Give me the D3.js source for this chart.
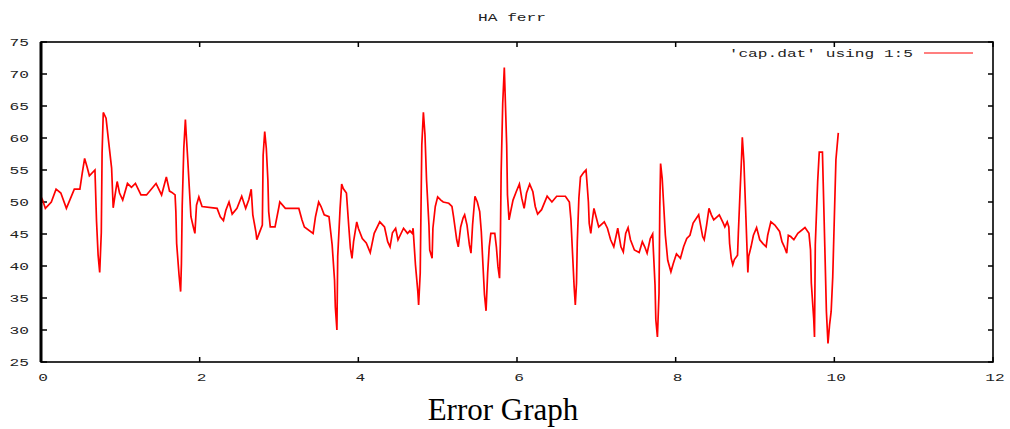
<!DOCTYPE html>
<html>
<head>
<meta charset="utf-8">
<script src="https://cdn.jsdelivr.net/npm/d3@7"></script>
<style>
  body { margin: 0; background: #fff; }
  svg { display: block; }
</style>
</head>
<body>
<div id="chart"></div>
<script>
// x column and 5th column of cap.dat
const timeValues = [
  0, 0.02, 0.055, 0.13, 0.19, 0.25, 0.32, 0.42, 0.49, 0.52, 0.55, 0.58, 0.61, 0.68, 0.70, 0.72, 0.74, 0.76, 0.77, 0.785,
  0.82, 0.85, 0.89, 0.91, 0.93, 0.96, 0.99, 1.03, 1.09, 1.14, 1.19, 1.26, 1.33, 1.45, 1.52, 1.58, 1.62, 1.65, 1.69, 1.70,
  1.71, 1.74, 1.76, 1.77, 1.78, 1.80, 1.82, 1.83, 1.85, 1.87, 1.89, 1.92, 1.94, 1.96, 1.99, 2.03, 2.22, 2.26, 2.30, 2.33,
  2.37, 2.41, 2.47, 2.53, 2.58, 2.62, 2.65, 2.67, 2.71, 2.72, 2.75, 2.79, 2.80, 2.82, 2.84, 2.86, 2.87, 2.89, 2.95, 3.00,
  3.01, 3.08, 3.25, 3.29, 3.32, 3.43, 3.46, 3.50, 3.53, 3.57, 3.63, 3.67, 3.70, 3.71, 3.73, 3.74, 3.77, 3.79, 3.81, 3.85,
  3.88, 3.90, 3.92, 3.94, 3.98, 4.00, 4.05, 4.10, 4.15, 4.20, 4.27, 4.33, 4.37, 4.40, 4.43, 4.47, 4.50, 4.57, 4.62, 4.65,
  4.68, 4.69, 4.72, 4.75, 4.76, 4.78, 4.79, 4.80, 4.82, 4.84, 4.86, 4.89, 4.90, 4.93, 4.94, 4.97, 5.00, 5.04, 5.07, 5.14,
  5.18, 5.20, 5.22, 5.24, 5.26, 5.29, 5.32, 5.34, 5.37, 5.40, 5.42, 5.44, 5.47, 5.50, 5.53, 5.55, 5.57, 5.59, 5.61, 5.63,
  5.65, 5.67, 5.72, 5.74, 5.76, 5.78, 5.79, 5.80, 5.82, 5.84, 5.85, 5.87, 5.88, 5.90, 5.92, 5.95, 5.99, 6.03, 6.06, 6.09,
  6.12, 6.16, 6.20, 6.23, 6.26, 6.31, 6.38, 6.44, 6.50, 6.61, 6.66, 6.68, 6.70, 6.72, 6.735, 6.75, 6.76, 6.78, 6.80, 6.84,
  6.87, 6.88, 6.90, 6.91, 6.93, 6.95, 6.97, 6.99, 7.03, 7.10, 7.14, 7.18, 7.22, 7.27, 7.31, 7.34, 7.37, 7.40, 7.43, 7.48,
  7.54, 7.58, 7.61, 7.64, 7.68, 7.71, 7.72, 7.74, 7.75, 7.77, 7.79, 7.80, 7.81, 7.83, 7.85, 7.87, 7.90, 7.94, 7.97, 8.01,
  8.06, 8.10, 8.14, 8.18, 8.22, 8.29, 8.34, 8.36, 8.39, 8.42, 8.45, 8.48, 8.55, 8.60, 8.62, 8.65, 8.67, 8.68, 8.70, 8.72,
  8.74, 8.78, 8.79, 8.81, 8.83, 8.84, 8.86, 8.88, 8.90, 8.91, 8.92, 8.95, 8.98, 9.02, 9.06, 9.10, 9.14, 9.16, 9.20, 9.25,
  9.31, 9.34, 9.37, 9.40, 9.42, 9.45, 9.49, 9.54, 9.63, 9.68, 9.70, 9.71, 9.73, 9.74, 9.75, 9.76, 9.79, 9.81, 9.85, 9.86,
  9.88, 9.90, 9.92, 9.94, 9.96, 9.98, 10.00, 10.02, 10.05
]
const ferrValues = [
  50.8, 50.3, 49.0, 50.0, 52.0, 51.4, 49.0, 52.0, 52.0, 54.5, 56.8, 55.5, 54.1, 55.0, 47.0, 41.7, 39.0, 45.2, 57.6, 64.0,
  63.1, 59.7, 55.3, 49.1, 50.8, 53.2, 51.4, 50.3, 52.9, 52.3, 52.9, 51.1, 51.1, 52.9, 51.1, 53.9, 51.7, 51.5, 51.1, 48.5,
  43.5, 38.6, 36.0, 40.4, 49.4, 58.4, 62.9, 60.7, 56.6, 52.1, 47.7, 46.1, 45.1, 49.5, 50.8, 49.3, 49.0, 47.7, 47.1, 48.7,
  50.0, 48.1, 49.0, 50.9, 49.0, 50.4, 52.0, 48.0, 45.2, 44.1, 45.1, 46.4, 57.3, 61.0, 58.4, 53.4, 48.5, 46.1, 46.1, 49.3,
  50.0, 49.0, 49.0, 47.2, 46.1, 45.1, 47.7, 50.0, 49.3, 48.0, 47.7, 43.3, 37.8, 33.6, 30.0, 41.5, 49.0, 52.8, 52.1, 51.4,
  46.1, 42.8, 41.2, 43.8, 46.9, 45.9, 44.3, 43.6, 42.1, 45.1, 46.9, 46.1, 43.8, 43.0, 45.2, 45.9, 44.1, 45.9, 45.1, 45.5,
  45.1, 45.9, 40.2, 36.0, 33.9, 38.9, 49.0, 58.9, 64.0, 60.5, 53.4, 46.4, 42.5, 41.2, 45.9, 49.3, 50.8, 50.3, 50.0, 49.8,
  49.3, 47.7, 45.9, 44.1, 43.0, 46.1, 47.5, 48.0, 46.4, 43.3, 42.0, 46.4, 50.9, 50.0, 48.5, 45.4, 40.4, 35.5, 33.0, 38.9,
  43.0, 45.1, 45.1, 43.0, 39.9, 38.1, 43.5, 54.5, 65.4, 71.0, 67.0, 58.9, 51.1, 47.2, 48.5, 50.3, 51.6, 52.8, 50.6, 49.0,
  51.4, 52.8, 51.6, 49.3, 48.1, 48.8, 50.9, 50.0, 50.9, 50.9, 50.0, 47.2, 42.0, 36.8, 33.9, 37.3, 43.8, 50.6, 53.9, 54.6,
  55.0, 53.4, 50.0, 46.7, 45.1, 47.2, 49.0, 48.0, 46.1, 46.9, 45.9, 44.1, 43.0, 45.9, 43.0, 42.2, 45.1, 46.0, 44.1, 42.5,
  42.1, 43.8, 43.0, 42.0, 44.3, 45.0, 42.2, 37.0, 31.6, 28.9, 35.7, 49.3, 56.0, 53.7, 49.3, 44.8, 40.9, 39.1, 40.4, 41.9,
  41.2, 43.0, 44.3, 44.8, 46.7, 48.0, 44.6, 44.1, 46.4, 49.0, 48.0, 47.2, 48.0, 46.7, 46.1, 46.9, 46.1, 43.5, 41.2, 40.2,
  41.0, 41.7, 45.1, 51.1, 56.8, 60.1, 56.3, 49.5, 42.5, 39.0, 41.5, 43.0, 44.8, 46.0, 44.1, 43.5, 43.0, 44.8, 46.9, 46.4,
  45.4, 43.8, 43.0, 42.0, 44.8, 44.6, 44.1, 45.1, 46.0, 45.1, 42.5, 37.3, 33.6, 31.8, 28.9, 43.3, 53.2, 57.8, 57.8, 52.9,
  43.0, 32.9, 27.9, 30.8, 32.9, 38.3, 47.5, 56.6, 60.8
]
const xTicks = [0, 2, 4, 6, 8, 10, 12]
const yTicks = [25, 30, 35, 40, 45, 50, 55, 60, 65, 70, 75]

const chartTitle = 'HA ferr'
const legendLabel = "'cap.dat' using 1:5"
const caption = 'Error Graph'

const width = 1010
const height = 429
const plot = {left: 41, top: 42, right: 993, bottom: 362}
const charW = 9.7  // the gnuplot font is wide, stretch text to match

const points = timeValues.map((t, i) => [t, ferrValues[i]])

const x = d3.scaleLinear().domain([0, 12]).range([plot.left, plot.right])
const y = d3.scaleLinear().domain([25, 75]).range([plot.bottom, plot.top])

const svg = d3.create('svg')
  .attr('width', width)
  .attr('height', height)
  .attr('viewBox', [0, 0, width, height])

document.getElementById('chart').appendChild(svg.node())

const mono = '"Liberation Mono", "DejaVu Sans Mono", monospace'

// wide text helper
function wideText(sel, str) {
  return sel.text(str)
    .attr('font-family', mono)
    .attr('font-size', 11)
    .attr('fill', '#222')
    .attr('textLength', str.length * charW)
    .attr('lengthAdjust', 'spacingAndGlyphs')
}

// ticks, mirrored on all four sides
const tickLen = 5
const ticks = svg.append('g').attr('stroke', '#000').attr('stroke-width', 1.5)
xTicks.forEach(v => {
  ticks.append('line').attr('x1', x(v)).attr('x2', x(v)).attr('y1', plot.bottom).attr('y2', plot.bottom - tickLen)
  ticks.append('line').attr('x1', x(v)).attr('x2', x(v)).attr('y1', plot.top).attr('y2', plot.top + tickLen)
})
yTicks.forEach(v => {
  ticks.append('line').attr('x1', plot.left).attr('x2', plot.left + tickLen + 1).attr('y1', y(v)).attr('y2', y(v))
  ticks.append('line').attr('x1', plot.right).attr('x2', plot.right - tickLen).attr('y1', y(v)).attr('y2', y(v))
})

// tick labels
svg.append('g').selectAll('text')
  .data(xTicks)
  .join('text')
    .attr('x', d => x(d) + 2)
    .attr('y', plot.bottom + 19)
    .attr('text-anchor', 'middle')
    .each(function(d) { wideText(d3.select(this), String(d)) })

svg.append('g').selectAll('text')
  .data(yTicks)
  .join('text')
    .attr('x', 29)
    .attr('y', d => y(d) + 4)
    .attr('text-anchor', 'end')
    .each(function(d) { wideText(d3.select(this), String(d)) })

// the series
const line = d3.line()
  .x(d => x(d[0]))
  .y(d => y(d[1]))

svg.append('path')
  .datum(points)
  .attr('fill', 'none')
  .attr('stroke', '#ff0000')
  .attr('stroke-width', 1.7)
  .attr('stroke-linejoin', 'miter')
  .attr('d', line)

// frame
svg.append('rect')
  .attr('x', plot.left)
  .attr('y', plot.top)
  .attr('width', plot.right - plot.left)
  .attr('height', plot.bottom - plot.top)
  .attr('fill', 'none')
  .attr('stroke', '#000')
  .attr('stroke-width', 1.6)
svg.append('line')
  .attr('x1', plot.left).attr('x2', plot.left)
  .attr('y1', plot.top).attr('y2', plot.bottom)
  .attr('stroke', '#000')
  .attr('stroke-width', 3)

// title
svg.append('text')
  .attr('x', 512)
  .attr('y', 21)
  .attr('text-anchor', 'middle')
  .call(wideText, chartTitle)

// legend
svg.append('text')
  .attr('x', 913)
  .attr('y', 57)
  .attr('text-anchor', 'end')
  .call(wideText, legendLabel)
svg.append('line')
  .attr('x1', 924).attr('x2', 973)
  .attr('y1', 53).attr('y2', 53)
  .attr('stroke', '#ff0000')
  .attr('stroke-width', 1.2)

// caption under the plot
svg.append('text')
  .attr('x', 503)
  .attr('y', 420)
  .attr('text-anchor', 'middle')
  .attr('font-family', '"Liberation Serif", "Times New Roman", serif')
  .attr('font-size', 31)
  .attr('fill', '#000')
  .text(caption)
</script>
</body>
</html>
